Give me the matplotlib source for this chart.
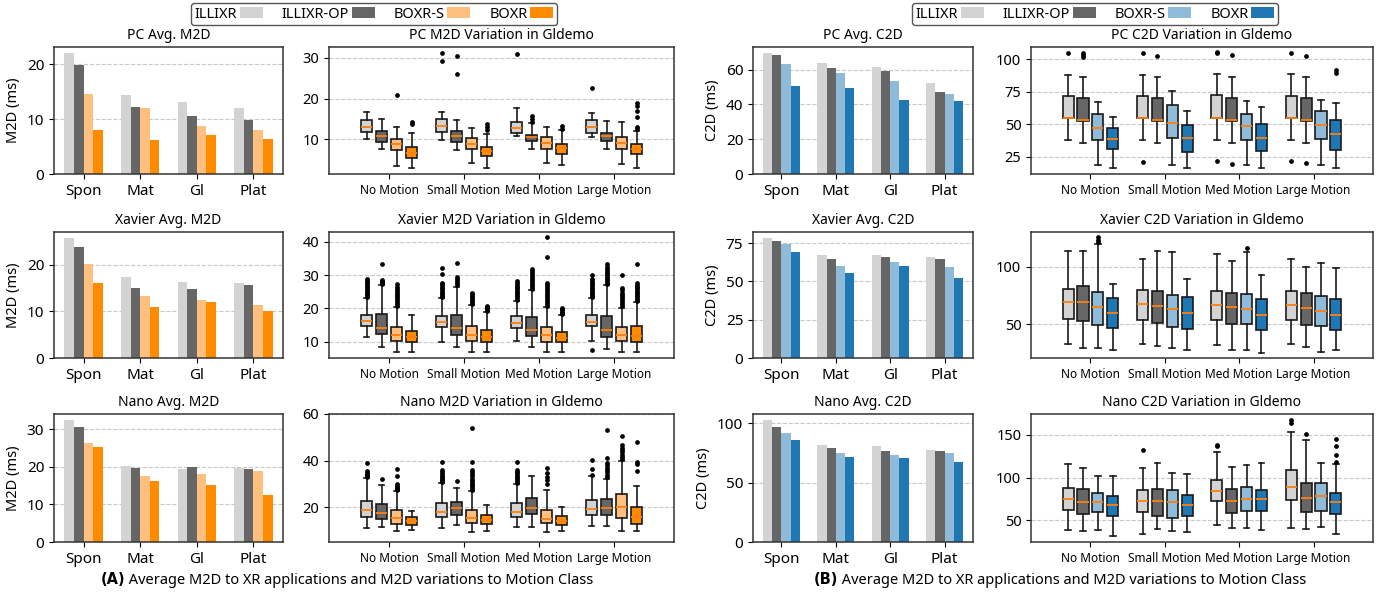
import matplotlib
matplotlib.use('Agg')
import matplotlib.pyplot as plt
from matplotlib.patches import Patch

plt.rcParams['font.family'] = ['Noto Sans', 'DejaVu Sans']

W, H = 1391, 593

apps = ['Spon', 'Mat', 'Gl', 'Plat']
motions = ['No Motion', 'Small Motion', 'Med Motion', 'Large Motion']
systems = ['ILLIXR', 'ILLIXR-OP', 'BOXR-S', 'BOXR']

colors_A = ['#d3d3d3', '#666666', '#ffc07f', '#ff8c00']
colors_B = ['#d3d3d3', '#666666', '#8fbbd9', '#1f77b4']

# ---- average bars (per app: ILLIXR, ILLIXR-OP, BOXR-S, BOXR) ----
pc_m2d_avg = [[22.0, 19.8, 14.6, 8.0], [14.3, 12.1, 12.0, 6.2], [13.1, 10.5, 8.7, 7.1], [12.0, 9.9, 8.0, 6.4]]
xavier_m2d_avg = [[25.8, 23.9, 20.3, 16.2], [17.4, 15.0, 13.3, 10.9], [16.4, 14.9, 12.4, 12.0], [16.1, 15.8, 11.4, 10.0]]
nano_m2d_avg = [[32.4, 30.5, 26.3, 25.2], [20.3, 19.8, 17.6, 16.1], [19.4, 20.0, 18.2, 15.2], [19.6, 19.3, 18.8, 12.6]]
pc_c2d_avg = [[69.5, 68.5, 63.4, 50.5], [63.5, 61.0, 58.2, 49.5], [61.3, 59.1, 53.6, 42.7], [52.5, 47.3, 46.1, 41.7]]
xavier_c2d_avg = [[78.4, 76.5, 74.5, 69.2], [67.0, 65.0, 60.4, 55.3], [67.3, 65.9, 63.0, 60.0], [66.0, 64.4, 59.5, 52.3]]
nano_c2d_avg = [[102.5, 97.0, 92.0, 85.8], [81.5, 78.7, 75.0, 71.3], [80.5, 76.7, 73.3, 70.3], [77.2, 76.3, 75.0, 67.0]]

# ---- box stats: [whislo, q1, med, q3, whishi], order: motion x system ----
pc_m2d_stats = [
    [10.0, 11.7, 13.0, 14.6, 16.7], [7.5, 9.3, 10.8, 12.0, 15.0], [3.3, 7.4, 8.7, 10.1, 12.9], [2.8, 5.3, 6.6, 8.0, 11.5],
    [9.9, 11.7, 13.2, 14.9, 16.8], [7.2, 9.3, 10.7, 12.1, 14.6], [4.0, 7.6, 8.8, 10.3, 12.8], [3.0, 5.8, 7.0, 8.1, 11.3],
    [10.7, 11.4, 12.8, 14.3, 17.7], [7.5, 9.5, 10.6, 11.1, 14.0], [4.0, 7.6, 9.0, 10.6, 13.0], [3.6, 6.4, 7.7, 8.8, 12.3],
    [10.6, 11.5, 13.0, 14.6, 16.5], [7.5, 9.6, 10.8, 11.4, 14.5], [3.8, 7.6, 9.0, 10.6, 14.3], [3.0, 6.3, 7.5, 8.7, 12.0]]
pc_m2d_fliers = [
    [], [], [20.8], [13.8, 14.2],
    [29.3, 31.2], [26.1, 30.5], [], [12.2, 13.0, 13.8],
    [31.0], [14.3, 15.0, 15.8], [], [12.5, 13.2],
    [22.7], [], [], [12.5, 13.0, 15.5, 17.0, 18.2, 18.8]]

xavier_m2d_stats = [
    [11.4, 14.6, 16.1, 18.0, 23.0], [8.3, 12.2, 14.2, 18.3, 27.2], [7.0, 10.2, 12.0, 14.4, 20.3], [6.8, 9.9, 11.5, 13.3, 18.0],
    [9.9, 14.4, 15.9, 17.8, 23.0], [8.3, 11.9, 14.0, 18.0, 26.5], [7.0, 10.3, 12.1, 14.6, 21.0], [7.0, 9.8, 11.5, 13.4, 19.0],
    [10.3, 14.1, 15.7, 17.6, 22.3], [8.5, 11.8, 13.6, 17.4, 25.7], [7.0, 10.0, 12.1, 14.3, 20.3], [6.8, 9.8, 11.1, 13.0, 18.0],
    [10.2, 14.6, 15.9, 18.0, 23.0], [7.9, 11.4, 13.4, 17.8, 27.0], [7.0, 10.1, 12.0, 14.3, 20.2], [7.0, 10.0, 11.8, 14.7, 21.8]]
xavier_m2d_fliers = [
    [23.4, 23.9, 24.4, 24.9, 25.4, 25.9, 26.4, 26.9, 27.4, 27.9, 28.4, 29.0],
    [27.5, 27.8, 28.1, 28.4, 28.7, 33.5],
    [20.6, 21.2, 21.8, 22.4, 23.0, 23.6, 24.2, 24.8, 25.4, 26.0, 26.6, 27.3],
    [],
    [23.3, 23.8, 24.3, 24.8, 25.3, 25.8, 26.3, 26.8, 27.3, 27.8, 30.5, 32.3],
    [27.0, 27.6, 28.2, 28.8, 29.5, 33.8],
    [21.3, 21.8, 22.3, 22.8, 23.3, 23.8, 24.3, 24.8],
    [19.3, 19.6, 19.9, 20.2, 20.5, 20.8],
    [22.6, 23.1, 23.6, 24.1, 24.6, 25.1, 25.6, 26.1, 26.6, 27.1, 27.6, 28.3],
    [26.0, 26.5, 27.0, 27.5, 28.0, 28.5, 29.0, 29.5, 30.0, 30.6, 31.3, 32.0],
    [20.6, 21.2, 21.8, 22.4, 23.0, 23.6, 24.2, 24.8, 25.4, 26.0, 26.6, 27.2, 27.8, 35.5, 41.5],
    [18.2, 18.6, 19.0, 19.4, 19.8, 20.1],
    [7.6, 23.3, 23.8, 24.3, 24.8, 25.3, 25.8, 26.3, 26.8, 27.3, 27.8, 28.3, 29.0, 30.2],
    [27.3, 27.8, 28.3, 28.8, 29.3, 29.8, 30.3, 30.8, 31.4, 32.0, 32.6, 33.3],
    [20.6, 21.2, 21.8, 22.4, 23.0, 23.6, 24.2, 24.8, 25.5, 26.3, 30.0],
    [22.1, 22.6, 23.1, 23.6, 24.1, 24.6, 25.1, 25.6, 26.1, 26.6, 27.1, 27.7, 33.3]]

nano_m2d_stats = [
    [11.1, 16.0, 18.8, 22.5, 32.5], [11.5, 14.8, 17.5, 21.3, 29.5], [10.0, 13.0, 15.2, 18.7, 27.0], [10.2, 12.3, 14.0, 15.8, 18.2],
    [11.2, 15.8, 17.8, 22.0, 30.5], [12.5, 16.5, 19.5, 22.3, 28.3], [9.2, 13.4, 15.3, 19.0, 27.0], [10.0, 12.8, 14.5, 16.7, 21.0],
    [11.6, 15.9, 18.0, 21.8, 30.0], [11.4, 17.0, 19.6, 23.9, 33.5], [9.5, 13.2, 15.1, 19.0, 27.5], [10.0, 12.4, 14.2, 16.2, 19.9],
    [12.0, 16.5, 19.4, 23.3, 33.5], [12.0, 16.8, 19.8, 23.4, 32.2], [10.0, 15.4, 20.2, 25.8, 40.0], [10.0, 13.0, 16.0, 20.0, 29.0]]
nano_m2d_fliers = [
    [32.8, 33.3, 33.8, 34.3, 34.8, 35.4, 38.8], [32.3], [27.3, 27.8, 28.3, 28.8, 29.3, 29.9, 33.5, 36.3], [],
    [30.8, 31.5, 32.2, 32.9, 33.6, 34.3, 35.0, 35.8, 39.2], [31.3],
    [27.3, 28.0, 28.7, 29.4, 30.1, 30.8, 31.5, 32.3, 33.2, 34.2, 35.2, 36.0, 39.3, 53.8], [],
    [30.3, 31.0, 31.7, 32.4, 33.1, 33.8, 34.5, 35.2, 36.0, 39.5], [], [30.0, 31.5, 33.0, 34.5, 36.8], [],
    [34.0, 36.5, 40.3], [33.0, 34.0, 35.0, 36.0, 37.0, 38.0, 39.0, 41.0, 53.0],
    [40.5, 41.5, 42.5, 43.5, 44.5, 45.5, 46.5, 50.6], [35.5, 38.7, 39.5, 47.8]]

pc_c2d_stats = [
    [37.5, 54.3, 54.8, 71.8, 88.0], [35.3, 52.0, 53.0, 69.7, 86.0], [18.5, 37.8, 47.2, 57.5, 67.0], [16.5, 30.5, 38.3, 47.0, 55.2],
    [37.8, 54.3, 54.8, 71.5, 88.0], [35.3, 52.5, 53.0, 69.7, 86.0], [18.5, 39.3, 51.0, 64.3, 75.5], [16.5, 28.8, 39.0, 49.3, 60.0],
    [37.8, 54.5, 55.0, 72.0, 88.3], [35.5, 52.5, 53.0, 69.7, 86.3], [18.5, 38.0, 48.5, 58.0, 67.5], [16.5, 29.0, 39.0, 50.0, 62.8],
    [38.0, 54.5, 55.0, 71.8, 88.5], [35.8, 52.5, 53.0, 69.7, 86.5], [18.5, 38.7, 49.0, 60.0, 68.3], [16.3, 30.0, 42.3, 53.0, 66.0]]
pc_c2d_fliers = [
    [104.5], [101.8, 103.3, 104.8], [], [],
    [21.0, 104.3], [102.5], [], [],
    [21.5, 104.8, 105.2], [19.5, 103.0], [], [],
    [21.5, 104.5], [19.8, 102.5], [], [89.0, 91.5]]

xavier_c2d_stats = [
    [33.5, 54.7, 69.5, 80.8, 113.5], [30.0, 53.2, 69.8, 83.0, 113.8], [30.0, 49.8, 65.0, 77.8, 119.5], [27.5, 47.2, 60.0, 72.8, 85.0],
    [33.5, 53.8, 67.5, 79.5, 107.0], [31.0, 51.0, 66.0, 79.0, 113.3], [30.0, 47.8, 63.2, 75.3, 112.3], [27.5, 46.0, 59.8, 73.5, 89.0],
    [32.0, 53.5, 66.7, 79.3, 111.2], [27.5, 50.5, 64.7, 77.3, 105.3], [28.0, 50.0, 63.3, 76.0, 113.0], [25.5, 45.0, 58.0, 72.0, 92.5],
    [33.5, 53.5, 66.7, 79.0, 106.5], [30.5, 49.8, 64.2, 77.0, 99.5], [26.5, 48.8, 62.0, 75.0, 103.3], [27.5, 45.5, 58.0, 72.3, 98.5]]
xavier_c2d_fliers = [
    [], [], [121.5, 123.5, 125.5], [],
    [], [], [], [],
    [], [], [116.0], [],
    [], [], [], []]

nano_c2d_stats = [
    [39.0, 62.5, 75.0, 88.0, 116.0], [37.5, 57.0, 72.0, 86.5, 111.5], [39.0, 60.0, 71.0, 82.0, 102.5], [31.5, 55.0, 68.5, 79.0, 102.0],
    [34.5, 59.5, 73.0, 86.0, 111.5], [40.0, 55.5, 72.5, 87.0, 117.0], [37.5, 53.0, 71.0, 86.0, 105.5], [37.0, 55.5, 68.5, 79.5, 104.0],
    [44.5, 72.5, 84.5, 97.5, 129.5], [41.5, 58.5, 72.5, 86.5, 113.0], [41.0, 61.5, 75.0, 88.5, 114.5], [39.0, 61.5, 74.5, 85.5, 117.0],
    [41.5, 73.5, 89.5, 108.5, 153.0], [40.0, 59.5, 76.0, 94.0, 143.5], [42.0, 61.5, 78.5, 93.5, 117.0], [34.5, 58.0, 71.0, 82.5, 116.5]]
nano_c2d_fliers = [
    [], [], [], [],
    [132.5], [], [], [],
    [136.5, 138.5], [], [], [],
    [163.5, 167.5], [150.5], [], [118.5, 126.0, 137.0, 145.0]]

caption_label_A = '(A)'
caption_label_B = '(B)'
caption_text = ' Average M2D to XR applications and M2D variations to Motion Class'

# ---------------- layout (pixels) ----------------
rows = [(47, 174), (232, 358), (414, 542)]
colA_bar, colA_box = (54, 283), (329, 674)
colB_bar, colB_box = (753, 973), (1031, 1373)

fig = plt.figure(figsize=(W / 100, H / 100), dpi=100)


def add_ax(cols, row):
    (l, r), (t, b) = cols, row
    return fig.add_axes([l / W, 1 - b / H, (r - l) / W, (b - t) / H])


def style(ax):
    for s in ax.spines.values():
        s.set_color('#333333')
        s.set_linewidth(1.1)
    ax.set_axisbelow(True)
    ax.yaxis.grid(True, linestyle='--', color='#c8c8c8', linewidth=0.8)


def bar_chart(ax, avg, colors, title, ylabel, yticks):
    style(ax)
    w = 0.17
    for i in range(4):
        ax.bar([a + (i - 1.5) * w for a in range(4)], [avg[a][i] for a in range(4)], w,
               color=colors[i], linewidth=0)
    ax.set_xticks(range(4))
    ax.set_xticklabels(apps, fontsize=11)
    ax.set_yticks(yticks)
    ax.tick_params(axis='y', labelsize=11)
    ax.set_ylabel(ylabel, fontsize=10.5)
    ax.set_title(title, fontsize=10, pad=6)


def box_chart(ax, stats, fliers, colors, title, ylim, yticks):
    style(ax)
    bs, pos, fc = [], [], []
    for g in range(4):
        for i in range(4):
            k = g * 4 + i
            lo, q1, med, q3, hi = stats[k]
            bs.append(dict(whislo=lo, q1=q1, med=med, q3=q3, whishi=hi, fliers=fliers[k]))
            pos.append(g + (i - 1.5) * 0.2)
            fc.append(colors[i])
    art = ax.bxp(bs, positions=pos, widths=0.15, patch_artist=True, manage_ticks=False,
                 boxprops=dict(edgecolor='#1a1a1a', linewidth=1.2),
                 whiskerprops=dict(color='#1a1a1a', linewidth=1.2),
                 capprops=dict(color='#1a1a1a', linewidth=1.2),
                 medianprops=dict(color='#ff7f0e', linewidth=1.3),
                 flierprops=dict(marker='o', markersize=2.4, markerfacecolor='black',
                                 markeredgecolor='black'))
    for p, c in zip(art['boxes'], fc):
        p.set_facecolor(c)
    ax.set_xticks(range(4))
    ax.set_xticklabels(motions, fontsize=8.5)
    ax.set_xlim(-0.8, 3.8)
    ax.set_ylim(*ylim)
    ax.set_yticks(yticks)
    ax.tick_params(axis='y', labelsize=10.5)
    ax.set_title(title, fontsize=10, pad=6)


# Left block (M2D)
bar_chart(add_ax(colA_bar, rows[0]), pc_m2d_avg, colors_A, 'PC Avg. M2D', 'M2D (ms)', [0, 10, 20])
box_chart(add_ax(colA_box, rows[0]), pc_m2d_stats, pc_m2d_fliers, colors_A,
          'PC M2D Variation in Gldemo', (1.4, 32.7), [10, 20, 30])
bar_chart(add_ax(colA_bar, rows[1]), xavier_m2d_avg, colors_A, 'Xavier Avg. M2D', 'M2D (ms)', [0, 10, 20])
box_chart(add_ax(colA_box, rows[1]), xavier_m2d_stats, xavier_m2d_fliers, colors_A,
          'Xavier M2D Variation in Gldemo', (5.1, 43.0), [10, 20, 30, 40])
bar_chart(add_ax(colA_bar, rows[2]), nano_m2d_avg, colors_A, 'Nano Avg. M2D', 'M2D (ms)', [0, 10, 20, 30])
box_chart(add_ax(colA_box, rows[2]), nano_m2d_stats, nano_m2d_fliers, colors_A,
          'Nano M2D Variation in Gldemo', (5.1, 60.0), [20, 40, 60])

# Right block (C2D)
bar_chart(add_ax(colB_bar, rows[0]), pc_c2d_avg, colors_B, 'PC Avg. C2D', 'C2D (ms)', [0, 20, 40, 60])
box_chart(add_ax(colB_box, rows[0]), pc_c2d_stats, pc_c2d_fliers, colors_B,
          'PC C2D Variation in Gldemo', (11.6, 109.3), [25, 50, 75, 100])
bar_chart(add_ax(colB_bar, rows[1]), xavier_c2d_avg, colors_B, 'Xavier Avg. C2D', 'C2D (ms)', [0, 25, 50, 75])
box_chart(add_ax(colB_box, rows[1]), xavier_c2d_stats, xavier_c2d_fliers, colors_B,
          'Xavier C2D Variation in Gldemo', (21.0, 130.0), [50, 100])
bar_chart(add_ax(colB_bar, rows[2]), nano_c2d_avg, colors_B, 'Nano Avg. C2D', 'C2D (ms)', [0, 50, 100])
box_chart(add_ax(colB_box, rows[2]), nano_c2d_stats, nano_c2d_fliers, colors_B,
          'Nano C2D Variation in Gldemo', (24.8, 174.4), [50, 100, 150])

# Legends
for colors, cx in ((colors_A, 374), (colors_B, 1095)):
    handles = [Patch(facecolor=c, edgecolor='none') for c in colors]
    fig.legend(handles, systems, loc='center', bbox_to_anchor=(cx / W, 1 - 14 / H), ncol=4,
               markerfirst=False, fontsize=10.5, handlelength=1.6, handleheight=0.8,
               handletextpad=0.15, columnspacing=1.3, borderpad=0.25, frameon=True,
               fancybox=True, edgecolor='#555555', framealpha=1.0)

# Captions: bold label + normal text, centred together
renderer = fig.canvas.get_renderer()
for label, cx in ((caption_label_A, 347), (caption_label_B, 1060)):
    tb = fig.text(0, 1 - 580 / H, label, ha='left', va='center', fontsize=10.5,
                  fontweight='bold', family=['DejaVu Sans'])
    tr = fig.text(0, 1 - 580 / H, caption_text, ha='left', va='center', fontsize=10.5)
    wb = tb.get_window_extent(renderer).width
    wr = tr.get_window_extent(renderer).width
    x0 = cx - (wb + wr) / 2
    tb.set_x(x0 / W)
    tr.set_x((x0 + wb) / W)

fig.savefig('out.png', dpi=100)
